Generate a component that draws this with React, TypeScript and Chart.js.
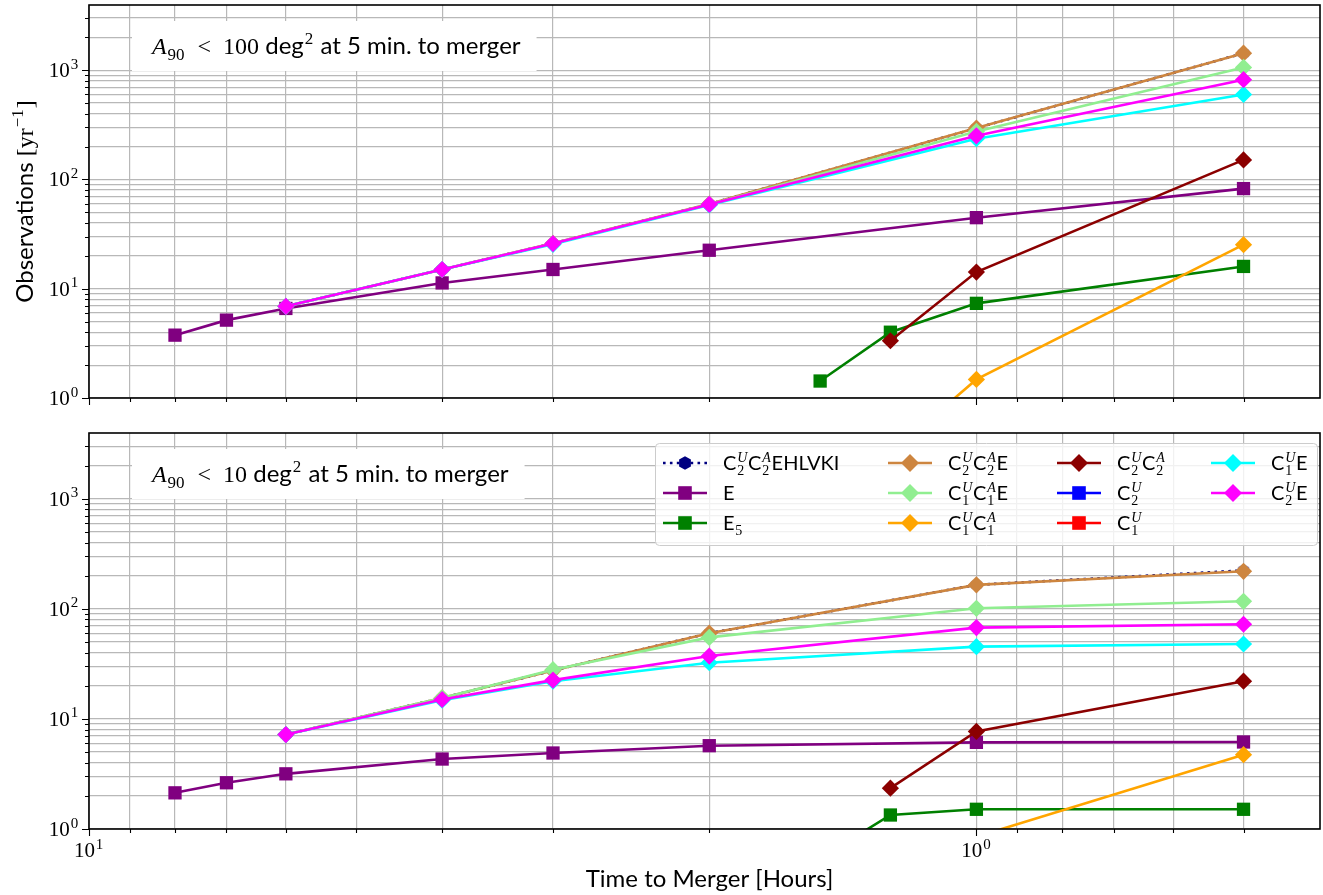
import { useEffect, useRef } from 'react';
import { Chart, registerables } from 'chart.js';

Chart.register(...registerables);

// ---------------------------------------------------------------------------
// Data
// ---------------------------------------------------------------------------
type V = (number | null)[];
const _ = null;

// hours before merger at which each network is evaluated
const HOURS = [8, 7, 6, 4, 3, 2, 1.5, 1.25, 1, 0.5];

const SERIES_LABELS = [
  'C₂ᵁC₂ᴬEHLVKI', 'E', 'E₅', 'C₂ᵁC₂ᴬE', 'C₁ᵁC₁ᴬE', 'C₁ᵁC₁ᴬ',
  'C₂ᵁC₂ᴬ', 'C₂ᵁ', 'C₁ᵁ', 'C₁ᵁE', 'C₂ᵁE',
];
const SERIES_COLORS = [
  '#000080', '#800080', '#008000', '#cd853f', '#90ee90', '#ffa500',
  '#8b0000', '#0000ff', '#ff0000', '#00ffff', '#ff00ff',
];
const SERIES_MARKERS = [
  'hexagon', 'square', 'square', 'diamond', 'diamond', 'diamond',
  'diamond', 'square', 'square', 'diamond', 'diamond',
];
const SERIES_DOTTED = [true, false, false, false, false, false, false, false, false, false, false];

// A90 < 100 deg² panel
const TOP_C2UC2AEHLVKI: V = [_, _, 6.9, 15.0, 26.0, 59.5, _, _, 295, 1430];
const TOP_E: V = [3.76, 5.16, 6.6, 11.3, 15.0, 22.5, _, _, 44.7, 82.5];
const TOP_E5: V = [_, _, _, _, _, _, 1.43, 4.0, 7.35, 16.0];
const TOP_C2UC2AE: V = [_, _, 6.9, 15.0, 26.0, 59.5, _, _, 295, 1430];
const TOP_C1UC1AE: V = [_, _, 6.9, 15.0, 25.9, 59.0, _, _, 275, 1060];
const TOP_C1UC1A: V = [_, _, _, _, _, _, _, 0.31, 1.48, 25.3];
const TOP_C2UC2A: V = [_, _, _, _, _, _, _, 3.34, 14.2, 151];
const TOP_C2U: V = [];
const TOP_C1U: V = [];
const TOP_C1UE: V = [_, _, 6.9, 15.0, 25.5, 58.5, _, _, 236, 600];
const TOP_C2UE: V = [_, _, 6.9, 15.0, 25.9, 59.1, _, _, 251, 819];

// A90 < 10 deg² panel
const BOT_C2UC2AEHLVKI: V = [_, _, 7.2, 15.5, 27.5, 60, _, _, 165, 223];
const BOT_E: V = [2.13, 2.63, 3.17, 4.32, 4.9, 5.71, _, _, 6.12, 6.17];
const BOT_E5: V = [_, _, _, _, _, _, 0.54, 1.34, 1.51, 1.51];
const BOT_C2UC2AE: V = [_, _, 7.2, 15.5, 27.5, 60, _, _, 165, 219];
const BOT_C1UC1AE: V = [_, _, 7.2, 15.5, 28, 55, _, _, 101, 117];
const BOT_C1UC1A: V = [_, _, _, _, _, _, _, _, 0.85, 4.73];
const BOT_C2UC2A: V = [_, _, _, _, _, _, _, 2.35, 7.7, 22.0];
const BOT_C2U: V = [];
const BOT_C1U: V = [];
const BOT_C1UE: V = [_, _, 7.2, 14.8, 22, 32.4, _, _, 45.3, 47.9];
const BOT_C2UE: V = [_, _, 7.2, 15.0, 22.5, 37.2, _, _, 67.5, 72.4];

const TOP_SERIES = [
  TOP_C2UC2AEHLVKI, TOP_E, TOP_E5, TOP_C2UC2AE, TOP_C1UC1AE, TOP_C1UC1A,
  TOP_C2UC2A, TOP_C2U, TOP_C1U, TOP_C1UE, TOP_C2UE,
];
const BOT_SERIES = [
  BOT_C2UC2AEHLVKI, BOT_E, BOT_E5, BOT_C2UC2AE, BOT_C1UC1AE, BOT_C1UC1A,
  BOT_C2UC2A, BOT_C2U, BOT_C1U, BOT_C1UE, BOT_C2UE,
];

const TOP_NOTE = 'A₉₀ < 100 deg² at 5 min. to merger';
const BOT_NOTE = 'A₉₀ < 10 deg² at 5 min. to merger';
const X_TITLE = 'Time to Merger [Hours]';
const Y_TITLE = 'Observations [yr⁻¹]';

const X_MIN = 0.41;
const X_MAX = 10;
const Y_MIN = 1;
const Y_MAX = 3950;

const X_TICK_VALUES = [10, 1];
const X_TICK_LABELS = ['10¹', '10⁰'];
const Y_TICK_VALUES = [1, 10, 100, 1000];
const Y_TICK_LABELS = ['10⁰', '10¹', '10²', '10³'];

// ---------------------------------------------------------------------------
// Styling helpers
// ---------------------------------------------------------------------------
const SANS = 'Lato, "DejaVu Sans", sans-serif';
const SERIF = '"Liberation Serif", "DejaVu Serif", serif';
const GRID_COLOR = '#b8b8b8';

// every integer multiple of a power of ten inside [lo, hi]
function logGrid(lo: number, hi: number): number[] {
  const out: number[] = [];
  for (let e = Math.floor(Math.log10(lo)); e <= Math.ceil(Math.log10(hi)); e++) {
    const d = Math.pow(10, e);
    for (let k = 1; k <= 9; k++) {
      const v = Number((k * d).toPrecision(6));
      if (v >= lo - 1e-9 && v <= hi + 1e-9) out.push(v);
    }
  }
  return out;
}
const X_GRID = logGrid(X_MIN, X_MAX);
const Y_GRID = logGrid(Y_MIN, Y_MAX);

// --- rich text: unicode super/subscripts are typeset as raised/lowered glyphs
const SUP: Record<string, string> = { '⁰': '0', '¹': '1', '²': '2', '³': '3', '⁻': '−', 'ᵁ': 'U', 'ᴬ': 'A' };
const SUB: Record<string, string> = { '₀': '0', '₁': '1', '₂': '2', '₅': '5', '₉': '9' };

interface Run { text: string; family: string; italic?: boolean }
interface Piece { text: string; font: string; x: number; dy: number }

function layoutRich(ctx: CanvasRenderingContext2D, runs: Run[], size: number) {
  const pieces: Piece[] = [];
  let x = 0;
  const ss = Math.round(size * 0.7);
  for (const run of runs) {
    const toks: { kind: string; text: string }[] = [];
    for (const ch of run.text) {
      const kind = SUP[ch] ? 'sup' : SUB[ch] ? 'sub' : 'n';
      const t = SUP[ch] ?? SUB[ch] ?? ch;
      const last = toks[toks.length - 1];
      if (last && last.kind === kind) last.text += t;
      else toks.push({ kind, text: t });
    }
    for (let i = 0; i < toks.length; i++) {
      const tk = toks[i];
      if (tk.kind === 'n') {
        const font = `${run.italic ? 'italic ' : ''}${size}px ${run.family}`;
        ctx.font = font;
        pieces.push({ text: tk.text, font, x, dy: 0 });
        x += ctx.measureText(tk.text).width;
      } else {
        const group = [tk];
        const nx = toks[i + 1];
        if (nx && nx.kind !== 'n' && nx.kind !== tk.kind) {
          group.push(nx);
          i++;
        }
        let w = 0;
        for (const g of group) {
          const font = `${/[A-Za-z]/.test(g.text) ? 'italic ' : ''}${ss}px ${SERIF}`;
          ctx.font = font;
          pieces.push({
            text: g.text,
            font,
            x: x + size * 0.04,
            dy: g.kind === 'sup' ? -size * 0.4 : size * 0.26,
          });
          w = Math.max(w, ctx.measureText(g.text).width);
        }
        x += w + size * 0.08;
      }
    }
  }
  return { pieces, width: x };
}

function drawRich(
  ctx: CanvasRenderingContext2D,
  runs: Run[],
  size: number,
  x: number,
  y: number,
  align: 'left' | 'center' | 'right' = 'left',
) {
  const { pieces, width } = layoutRich(ctx, runs, size);
  const x0 = align === 'left' ? x : align === 'center' ? x - width / 2 : x - width;
  ctx.save();
  ctx.fillStyle = '#000';
  ctx.textAlign = 'left';
  ctx.textBaseline = 'alphabetic';
  for (const p of pieces) {
    ctx.font = p.font;
    ctx.fillText(p.text, x0 + p.x, y + p.dy);
  }
  ctx.restore();
  return width;
}

function noteRuns(note: string): Run[] {
  const cut = note.indexOf(' deg');
  const math = note.slice(0, cut);
  return [
    { text: math.slice(0, 1), family: SERIF, italic: true },
    { text: math.slice(1).replace(' < ', '  <  '), family: SERIF },
    { text: note.slice(cut), family: SANS },
  ];
}

function titleRuns(t: string): Run[] {
  const cut = t.indexOf('[yr');
  if (cut < 0) return [{ text: t, family: SANS }];
  return [
    { text: t.slice(0, cut), family: SANS },
    { text: t.slice(cut), family: SERIF },
  ];
}

// --- markers
function pathMarker(ctx: CanvasRenderingContext2D, kind: string, x: number, y: number) {
  ctx.beginPath();
  if (kind === 'diamond') {
    const r = 9;
    ctx.moveTo(x, y - r);
    ctx.lineTo(x + r, y);
    ctx.lineTo(x, y + r);
    ctx.lineTo(x - r, y);
  } else if (kind === 'square') {
    const h = 6.8;
    ctx.rect(x - h, y - h, 2 * h, 2 * h);
  } else {
    const r = 6.8;
    for (let k = 0; k < 6; k++) {
      const ang = -Math.PI / 2 + (k * Math.PI) / 3;
      const px = x + r * Math.cos(ang);
      const py = y + r * Math.sin(ang);
      if (k === 0) ctx.moveTo(px, py);
      else ctx.lineTo(px, py);
    }
  }
  ctx.closePath();
}

function hexagonImage(color: string) {
  const c = document.createElement('canvas');
  c.width = 16;
  c.height = 16;
  const g = c.getContext('2d')!;
  g.fillStyle = color;
  g.translate(8, 8);
  g.scale(0.9, 0.9);
  pathMarker(g, 'hexagon', 0, 0);
  g.fill();
  return c;
}

function buildDatasets(series: V[]) {
  return series.map((vals, i) => {
    const kind = SERIES_MARKERS[i];
    const color = SERIES_COLORS[i];
    const style: any = kind === 'diamond' ? 'rectRot' : kind === 'square' ? 'rect' : hexagonImage(color);
    return {
      label: SERIES_LABELS[i],
      data: HOURS.map((h, j) => ({ x: h, y: vals[j] ?? null })).filter((p) => p.y !== null),
      borderColor: color,
      backgroundColor: color,
      borderWidth: 2.6,
      borderDash: SERIES_DOTTED[i] ? [2.6, 4.3] : [],
      pointStyle: style,
      pointRadius: kind === 'diamond' ? 8.6 : 9.4,
      pointBorderWidth: 0,
      pointBackgroundColor: color,
      tension: 0,
      clip: 0,
      order: series.length - i,
    };
  });
}

// ---------------------------------------------------------------------------
// Panel decorations: frame, ticks, tick labels, titles, text box, legend
// ---------------------------------------------------------------------------
const decorPlugin = {
  id: 'panelDecor',
  afterDraw(chart: any, _args: any, o: any) {
    const ctx: CanvasRenderingContext2D = chart.ctx;
    const a = chart.chartArea;
    const xs = chart.scales.x;
    const ys = chart.scales.y;
    ctx.save();

    // text box in the upper left corner
    if (o.note) {
      const runs = noteRuns(o.note);
      const w = layoutRich(ctx, runs, 24).width;
      const bx = a.left + 43;
      const by = a.top + 16;
      ctx.fillStyle = '#ffffff';
      ctx.fillRect(bx, by, w + 36, 50);
      drawRich(ctx, runs, 24, bx + 20, by + 33);
    }

    // frame
    ctx.strokeStyle = '#000';
    ctx.lineWidth = 1.6;
    ctx.strokeRect(a.left, a.top, a.right - a.left, a.bottom - a.top);

    // tick marks
    ctx.lineWidth = 1.1;
    ctx.beginPath();
    for (const v of Y_GRID) {
      const y = Math.round(ys.getPixelForValue(v)) + 0.5;
      const len = Y_TICK_VALUES.includes(v) ? 7 : 4;
      ctx.moveTo(a.left - len, y);
      ctx.lineTo(a.left, y);
    }
    for (const v of X_GRID) {
      const x = Math.round(xs.getPixelForValue(v)) + 0.5;
      const len = X_TICK_VALUES.includes(v) ? 7 : 4;
      ctx.moveTo(x, a.bottom);
      ctx.lineTo(x, a.bottom + len);
    }
    ctx.stroke();

    // tick labels
    Y_TICK_VALUES.forEach((v, i) => {
      const y = ys.getPixelForValue(v);
      drawRich(ctx, [{ text: Y_TICK_LABELS[i], family: SERIF }], 21, a.left - 10, y + 7, 'right');
    });
    if (o.xLabels) {
      X_TICK_VALUES.forEach((v, i) => {
        const x = xs.getPixelForValue(v);
        drawRich(ctx, [{ text: X_TICK_LABELS[i], family: SERIF }], 21, x, a.bottom + 28, 'center');
      });
    }

    // axis titles
    if (o.yTitle) {
      ctx.save();
      ctx.translate(33, (a.top + a.bottom) / 2);
      ctx.rotate(-Math.PI / 2);
      drawRich(ctx, titleRuns(o.yTitle), 24, 0, 0, 'center');
      ctx.restore();
    }
    if (o.xTitle) {
      drawRich(ctx, titleRuns(o.xTitle), 24, (a.left + a.right) / 2 + 5, a.bottom + 58, 'center');
    }

    // legend
    if (o.legend) {
      const lx = 655;
      const ly = a.top + 10;
      const lw = 662;
      const lh = 102;
      ctx.fillStyle = 'rgba(255,255,255,0.8)';
      ctx.strokeStyle = '#cccccc';
      ctx.lineWidth = 1;
      ctx.beginPath();
      ctx.roundRect(lx + 0.5, ly + 0.5, lw, lh, 4);
      ctx.fill();
      ctx.stroke();
      const colStarts = [8, 233, 402, 556];
      chart.data.datasets.forEach((ds: any, i: number) => {
        const col = Math.floor(i / 3);
        const row = i % 3;
        const hx = lx + colStarts[col];
        const hy = ly + 20 + row * 30;
        ctx.save();
        ctx.strokeStyle = ds.borderColor;
        ctx.lineWidth = 2.6;
        ctx.setLineDash(SERIES_DOTTED[i] ? [2.6, 4.3] : []);
        ctx.beginPath();
        ctx.moveTo(hx, hy);
        ctx.lineTo(hx + 44, hy);
        ctx.stroke();
        ctx.setLineDash([]);
        ctx.fillStyle = ds.borderColor;
        pathMarker(ctx, SERIES_MARKERS[i], hx + 22, hy);
        ctx.fill();
        ctx.restore();
        drawRich(ctx, [{ text: ds.label, family: SANS }], 20, hx + 60, hy + 7);
      });
    }

    ctx.restore();
  },
};

function makePanel(
  canvas: HTMLCanvasElement,
  series: V[],
  padTop: number,
  xAxisHeight: number,
  decor: Record<string, unknown>,
) {
  return new Chart(canvas, {
    type: 'line',
    data: { datasets: buildDatasets(series) as any },
    plugins: [decorPlugin as any],
    options: {
      animation: false,
      responsive: false,
      devicePixelRatio: 1,
      events: [],
      layout: { autoPadding: false, padding: { top: padTop, right: 3, left: 0, bottom: 0 } },
      plugins: {
        legend: { display: false },
        tooltip: { enabled: false },
        panelDecor: decor,
      } as any,
      scales: {
        x: {
          type: 'logarithmic',
          reverse: true,
          min: X_MIN,
          max: X_MAX,
          afterBuildTicks: (s: any) => {
            s.ticks = X_GRID.map((v) => ({ value: v }));
          },
          afterFit: (s: any) => {
            s.height = xAxisHeight;
            s.paddingLeft = 0;
            s.paddingRight = 0;
          },
          ticks: { display: false },
          grid: { color: GRID_COLOR, lineWidth: 1.2, drawTicks: false },
          border: { display: false },
        },
        y: {
          type: 'logarithmic',
          min: Y_MIN,
          max: Y_MAX,
          afterBuildTicks: (s: any) => {
            s.ticks = Y_GRID.map((v) => ({ value: v }));
          },
          afterFit: (s: any) => {
            s.width = 89;
            s.paddingTop = 0;
            s.paddingBottom = 0;
          },
          ticks: { display: false },
          grid: { color: GRID_COLOR, lineWidth: 1.2, drawTicks: false },
          border: { display: false },
        },
      },
    } as any,
  });
}

export default function App() {
  const topRef = useRef<HTMLCanvasElement>(null);
  const botRef = useRef<HTMLCanvasElement>(null);

  useEffect(() => {
    const top = makePanel(topRef.current!, TOP_SERIES, 5, 14, {
      note: TOP_NOTE,
      yTitle: Y_TITLE,
      xLabels: false,
      legend: false,
    });
    const bottom = makePanel(botRef.current!, BOT_SERIES, 15, 66, {
      note: BOT_NOTE,
      xTitle: X_TITLE,
      xLabels: true,
      legend: true,
    });
    return () => {
      top.destroy();
      bottom.destroy();
    };
  }, []);

  return (
    <div
      style={{
        position: 'absolute',
        left: 0,
        top: 0,
        width: 1323,
        height: 895,
        background: '#ffffff',
        overflow: 'hidden',
      }}
    >
      <canvas ref={topRef} width={1323} height={412} style={{ position: 'absolute', left: 0, top: 0 }} />
      <canvas ref={botRef} width={1323} height={477} style={{ position: 'absolute', left: 0, top: 418 }} />
    </div>
  );
}
